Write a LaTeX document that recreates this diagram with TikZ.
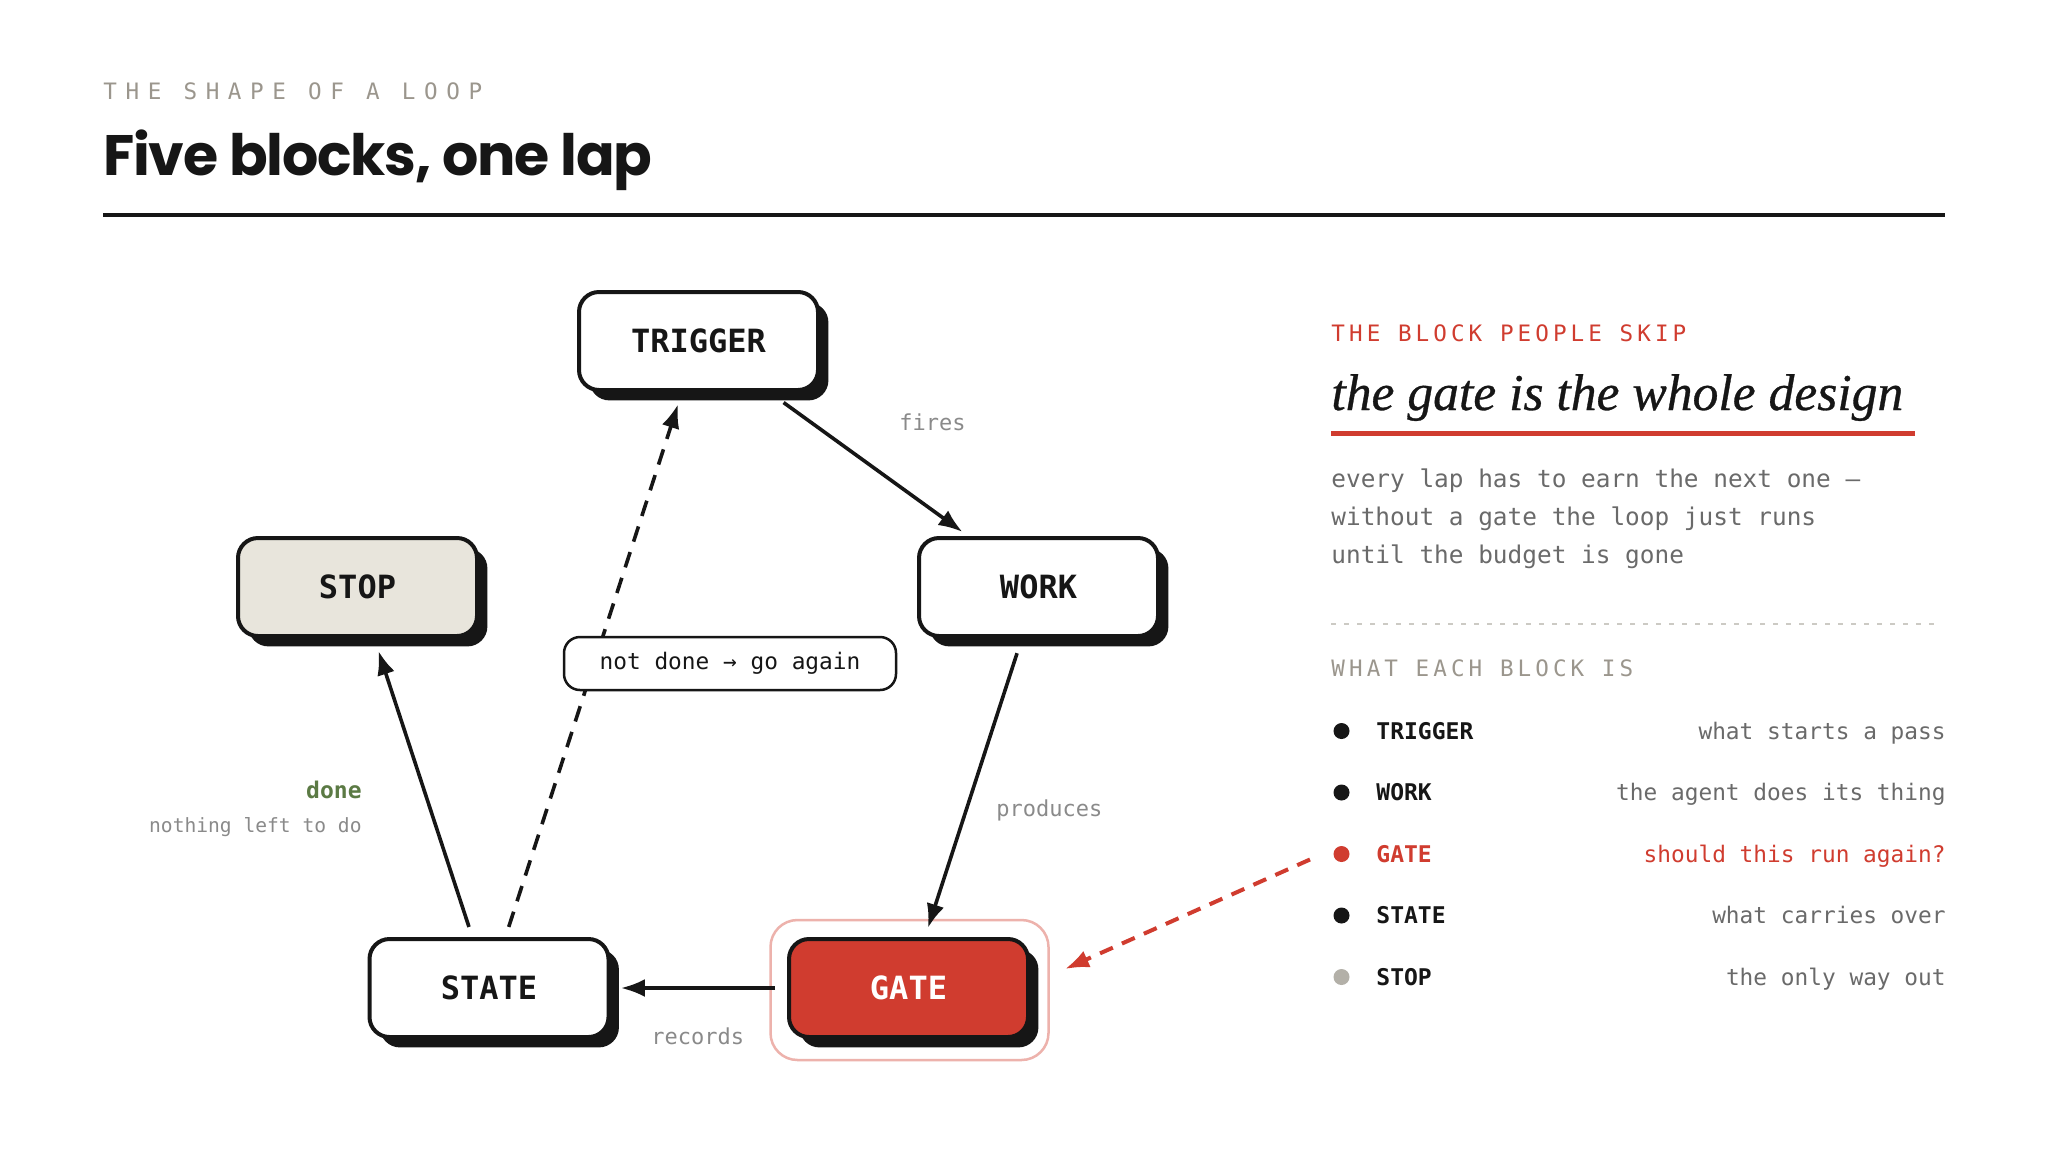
\documentclass[tikz,border=0pt]{standalone}
\usepackage{fontspec}
\setmonofont{DejaVu Sans Mono}
\newfontfamily\headfont[LetterSpace=-2.2]{Poppins}
\newfontfamily\kickfont[LetterSpace=38]{DejaVu Sans Mono}
\newfontfamily\tagfont[LetterSpace=18]{DejaVu Sans Mono}
\newfontfamily\leadfont[FakeBold=0.6]{Liberation Serif}
\usetikzlibrary{shadows,arrows.meta}

\definecolor{ink}{HTML}{161616}
\definecolor{gatered}{HTML}{D03C2F}
\definecolor{stopfill}{HTML}{E8E5DC}
\definecolor{halopink}{HTML}{EDB2AC}
\definecolor{kickgray}{HTML}{9B968D}
\definecolor{edgegray}{HTML}{8A8A8A}
\definecolor{bodygray}{HTML}{6A6A6A}
\definecolor{stopdot}{HTML}{B3B0A8}
\definecolor{rulegray}{HTML}{CCCAC4}
\definecolor{donegreen}{HTML}{5B7A44}

\begin{document}
\begin{tikzpicture}[x=0.5pt, y=-0.5pt,
    block/.style={draw=ink, line width=2pt, rounded corners=10pt, fill=white,
        minimum width=119.5pt, minimum height=49pt, inner sep=0pt, text=ink,
        font=\ttfamily\bfseries\fontsize{16}{19}\selectfont,
        drop shadow={shadow xshift=5.2pt, shadow yshift=-5.2pt, opacity=1, fill=ink}},
    flow/.style={draw=ink, line width=1.8pt, -{Latex[length=12pt, width=9pt]}},
    loopback/.style={flow, dash pattern=on 8pt off 5.5pt},
    edgetext/.style={anchor=base west, inner sep=0pt, text=edgegray,
        font=\ttfamily\fontsize{11}{13}\selectfont},
    plain/.style={inner sep=0pt, font=\ttfamily\fontsize{11.4}{13}\selectfont}]
    \fill[white] (0,0) rectangle (2048,1152);
    \useasboundingbox (0,0) rectangle (2048,1152);

    % heading
    \node[anchor=base west, inner sep=0pt, text=kickgray,
        font=\kickfont\fontsize{11.3}{13}\selectfont] (kicker) at (103,99) {THE SHAPE OF A LOOP};
    \node[anchor=base west, inner sep=0pt, text=ink,
        font=\headfont\bfseries\fontsize{28.5}{34}\selectfont] (title) at (103,175) {Five blocks, one lap};
    \draw[ink, line width=2pt] (103,214.5) -- (1945,214.5);

    % the loop
    \node[block] (trigger) at (698.5,341) {TRIGGER};
    \node[block, fill=stopfill] (stop) at (357.5,587) {STOP};
    \node[block] (work) at (1038.5,587) {WORK};
    \node[block] (state) at (489,988) {STATE};
    \node[draw=halopink, line width=1.25pt, rounded corners=13.5pt,
        minimum width=139pt, minimum height=70pt] (halo) at (909.5,990) {};
    \node[block, fill=gatered, text=white] (gate) at (908.5,988) {GATE};

    \draw[flow, shorten <=9pt, shorten >=3.5pt] (trigger) -- (work);
    \draw[flow, shorten <=8pt, shorten >=4.8pt] (work) -- (gate);
    \draw[flow, shorten <=6pt, shorten >=5.2pt] (gate) -- (state);
    \draw[flow, shorten <=5.3pt, shorten >=6.8pt] (state) -- (stop);
    \draw[loopback, shorten <=5.3pt, shorten >=6.4pt] (state) -- (trigger);

    \node[plain, draw=ink, line width=1.25pt, rounded corners=8pt, fill=white, text=ink,
        minimum width=166pt, minimum height=26.5pt] (again) at (730,663.5) {not done → go again};

    \node[edgetext] (fires) at (899,430) {fires};
    \node[edgetext] (produces) at (996,816) {produces};
    \node[edgetext] (records) at (651,1044) {records};
    \node[anchor=base east, inner sep=0pt, text=donegreen,
        font=\ttfamily\bfseries\fontsize{11.5}{13}\selectfont] (done) at (362,798) {done};
    \node[anchor=base east, inner sep=0pt, text=edgegray,
        font=\ttfamily\fontsize{9.8}{12}\selectfont] (doneinfo) at (362,832) {nothing left to do};

    % side panel
    \node[anchor=base west, inner sep=0pt, text=gatered,
        font=\tagfont\fontsize{11.3}{13}\selectfont] (skip) at (1331,341.5) {THE BLOCK PEOPLE SKIP};
    \node[anchor=base west, inner sep=0pt, text=ink,
        font=\leadfont\itshape\fontsize{25.8}{30}\selectfont] (design) at (1331,410) {the gate is the whole design};
    \draw[gatered, line width=2.5pt] (1331,433.5) -- (1915,433.5);
    \foreach \line [count=\i from 0] in {every lap has to earn the next one –,
        without a gate the loop just runs, until the budget is gone}
        \node[anchor=base west, inner sep=0pt, text=bodygray,
            font=\ttfamily\fontsize{12.2}{15}\selectfont] (lap\i) at (1331,487+38*\i) {\line};
    \draw[rulegray, line width=0.8pt, dash pattern=on 2.5pt off 4pt] (1331,624) -- (1938,624);
    \node[anchor=base west, inner sep=0pt, text=kickgray,
        font=\tagfont\fontsize{11.3}{13}\selectfont] (legendhead) at (1331,676) {WHAT EACH BLOCK IS};

    \foreach \name/\desc/\dotcol/\namecol/\desccol [count=\i from 0,
        evaluate=\i as \y using 731+61.5*\i] in
        {TRIGGER/what starts a pass/ink/ink/bodygray,
         WORK/the agent does its thing/ink/ink/bodygray,
         GATE/should this run again?/gatered/gatered/gatered,
         STATE/what carries over/ink/ink/bodygray,
         STOP/the only way out/stopdot/ink/bodygray}
    {
        \node[circle, fill=\dotcol, minimum size=8pt, inner sep=0pt] (dot\i) at (1341.5,\y) {};
        \node[anchor=base west, inner sep=0pt, text=\namecol,
            font=\ttfamily\bfseries\fontsize{11.5}{13}\selectfont] (name\i) at (1376,\y+8.4) {\name};
        \node[anchor=base east, inner sep=0pt, text=\desccol,
            font=\ttfamily\fontsize{11.4}{13}\selectfont] (desc\i) at (1946,\y+8.4) {\desc};
    }

    \coordinate (gatetip) at (1065,969);
    \draw[gatered, line width=2pt, dash pattern=on 7pt off 5pt,
        -{Latex[length=12pt, width=9pt]}, shorten <=14pt] (dot2.north west) -- (gatetip);
\end{tikzpicture}
\end{document}
